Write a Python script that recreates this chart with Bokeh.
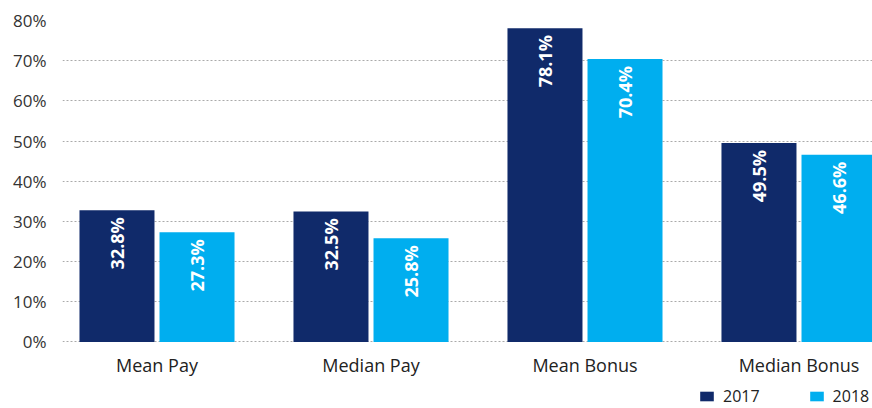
import math
from bokeh.plotting import figure
from bokeh.models import ColumnDataSource, Range1d, FixedTicker, PrintfTickFormatter, Legend, LegendItem
from bokeh.core.properties import value
from bokeh.embed import file_html
from bokeh.resources import INLINE

categories = ["Mean Pay", "Median Pay", "Mean Bonus", "Median Bonus"]
years = ["2017", "2018"]
v2017 = [32.8, 32.5, 78.1, 49.5]
v2018 = [27.3, 25.8, 70.4, 46.6]
y_ticks = [0, 10, 20, 30, 40, 50, 60, 70, 80]

colors = {"2017": "#102a6a", "2018": "#00aeef"}
offsets = {"2017": -0.187, "2018": 0.187}
series = {"2017": v2017, "2018": v2018}

centers = [i + 0.5 for i in range(len(categories))]

# frame runs to the bottom of the page so the legend can sit under the labels
p = figure(width=872, height=408, output_backend="svg", toolbar_location=None,
           x_range=Range1d(0.0584, 3.8435), y_range=Range1d(-16.55, 80),
           x_axis_location=None,
           min_border_left=62, min_border_right=0, min_border_top=20, min_border_bottom=0)
p.outline_line_color = None
p.background_fill_color = "white"
p.border_fill_color = "white"

p.xgrid.grid_line_color = None
p.ygrid.grid_line_color = "#aaaaaa"
p.ygrid.grid_line_dash = "2 2"
p.ygrid.grid_line_width = 1
p.ygrid.ticker = FixedTicker(ticks=y_ticks)

p.yaxis.ticker = FixedTicker(ticks=y_ticks)
p.yaxis.formatter = PrintfTickFormatter(format="%d%%")
p.yaxis.axis_line_color = None
p.yaxis.major_tick_line_color = None
p.yaxis.minor_tick_line_color = None
p.yaxis.major_label_standoff = 10
p.yaxis.major_label_text_font = "Open Sans"
p.yaxis.major_label_text_font_size = "17px"
p.yaxis.major_label_text_color = "#333333"

# category labels under the zero line
cat_src = ColumnDataSource(dict(x=centers, y=[0] * len(categories), t=categories))
p.text(x="x", y="y", text="t", source=cat_src, y_offset=23,
       text_align="center", text_baseline="alphabetic",
       text_color="#222222", text_font=value("Open Sans"), text_font_size="18px")

items = []
for yr in years:
    vals = series[yr]
    src = ColumnDataSource(dict(
        x=[c + offsets[yr] for c in centers],
        top=vals,
        lbl=["%.1f%%" % v for v in vals],
    ))
    r = p.vbar(x="x", top="top", width=0.3505, bottom=0, source=src,
               fill_color=colors[yr], line_color=None)
    p.text(x="x", y="top", text="lbl", source=src, angle=math.pi / 2,
           text_align="right", text_baseline="middle", y_offset=7,
           text_color="white", text_font=value("Open Sans"),
           text_font_style="bold", text_font_size="18px")
    items.append(LegendItem(label=yr, renderers=[r]))

legend = Legend(items=items, orientation="horizontal", location=(636, 1),
                border_line_color=None, background_fill_alpha=0,
                padding=0, margin=0, spacing=48, label_width=20,
                glyph_width=17, glyph_height=12, label_standoff=8,
                label_text_font="Open Sans", label_text_font_size="16px",
                label_text_color="#222222")
p.add_layout(legend, "center")

open("out.html", "w").write(file_html(p, INLINE))
